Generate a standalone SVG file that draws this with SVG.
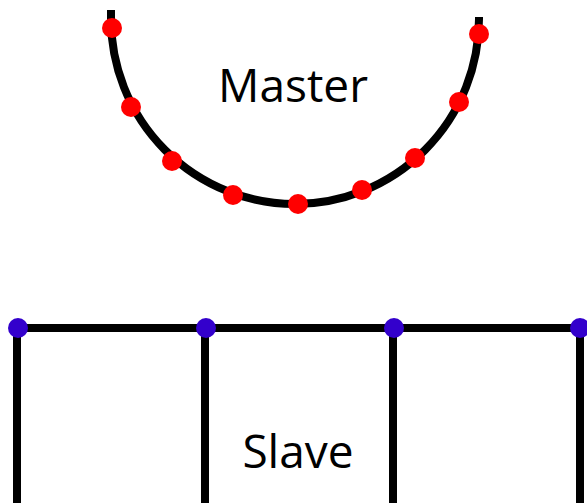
<svg xmlns="http://www.w3.org/2000/svg" width="587" height="503" viewBox="0 0 587 503">
<style>
.ln{fill:none;stroke:#000;stroke-width:8}
.rd{fill:#ff0000}
.bl{fill:#3300cc}
.lbl{font-family:"Open Sans","Noto Sans",sans-serif;font-size:46px;fill:#000;text-anchor:middle}
</style>
<rect width="587" height="503" fill="#fff"/>
<g id="connectors">
<path class="ln" d="M111,10 L111,19 A184,185 0 0 0 479,19 L479,17"/>
<path class="ln" d="M17,328 L587,328 M17,328 L17,503 M205,328 L205,503 M393,328 L393,503 M580,328 L580,503"/>
</g>
<g id="master">
<text class="lbl" x="293" y="102">Master</text>
</g>
<g id="master-points">
<circle class="rd" cx="112" cy="28" r="10"/>
<circle class="rd" cx="131" cy="107" r="10"/>
<circle class="rd" cx="172" cy="161" r="10"/>
<circle class="rd" cx="233" cy="195" r="10"/>
<circle class="rd" cx="298" cy="204" r="10"/>
<circle class="rd" cx="362" cy="190" r="10"/>
<circle class="rd" cx="415" cy="158" r="10"/>
<circle class="rd" cx="459" cy="102" r="10"/>
<circle class="rd" cx="479" cy="34" r="10"/>
</g>
<g id="slave">
<text class="lbl" x="298" y="468">Slave</text>
</g>
<g id="slave-points">
<circle class="bl" cx="18" cy="328" r="10"/>
<circle class="bl" cx="206" cy="328" r="10"/>
<circle class="bl" cx="394" cy="328" r="10"/>
<circle class="bl" cx="580" cy="328" r="10"/>
</g>
</svg>
